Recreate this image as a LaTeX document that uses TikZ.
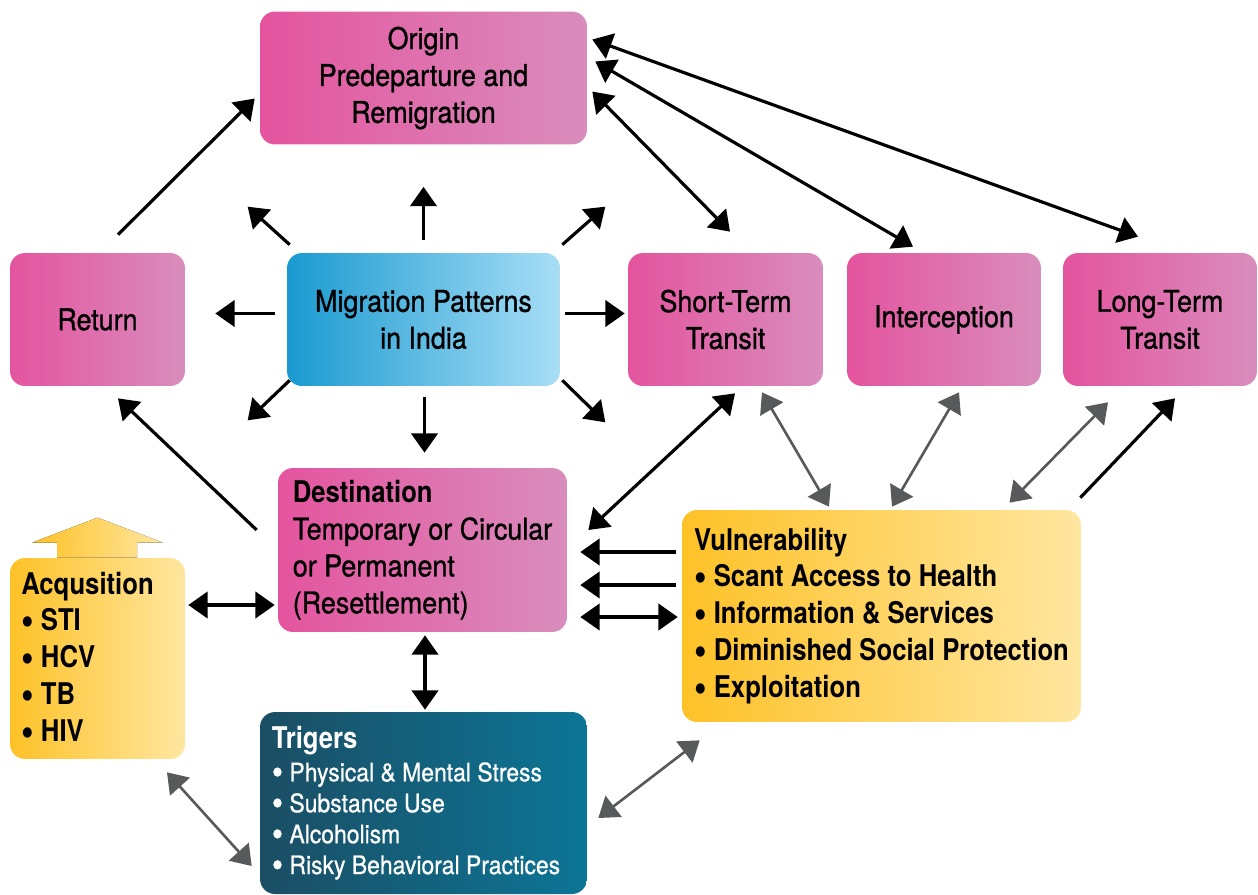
\documentclass[tikz,border=0pt]{standalone}
\usepackage{graphicx}
\usepackage{fontspec}
\setmainfont{TeX Gyre Heros}[FakeStretch=0.9,BoldFeatures={FakeStretch=0.86}]
\newfontfamily\medfont{TeX Gyre Heros}[FakeStretch=0.9,FakeBold=1]
\newfontfamily\trigfont{TeX Gyre Heros}[FakeStretch=0.9,FakeBold=0.8]
\usetikzlibrary{calc,arrows.meta}
\definecolor{pinkL}{RGB}{228,84,158}
\definecolor{pinkR}{RGB}{217,141,189}
\definecolor{blueL}{RGB}{26,154,208}
\definecolor{blueR}{RGB}{168,222,246}
\definecolor{yellowL}{RGB}{254,194,40}
\definecolor{yellowR}{RGB}{255,230,160}
\definecolor{tealL}{RGB}{27,78,100}
\definecolor{tealR}{RGB}{12,117,150}
\definecolor{arrowgrey}{RGB}{88,89,91}
\newcommand{\listdot}{\raisebox{-0.12em}{\scalebox{1.4}{\textbullet}}}

\begin{document}
\begin{tikzpicture}[x=0.02cm,y=-0.02cm,font=\fontsize{17}{21}\selectfont]

\tikzset{pinknode/.style={left color=pinkL,right color=pinkR,rounded corners=0.3cm,inner sep=0pt,align=center,minimum height=2.66cm,font=\medfont\fontsize{17}{21}\selectfont},
bluenode/.style={left color=blueL,right color=blueR,rounded corners=0.3cm,inner sep=0pt,align=center,minimum height=2.66cm,font=\medfont\fontsize{17}{21}\selectfont},
yellownode/.style={left color=yellowL,right color=yellowR,rounded corners=0.3cm,inner sep=0pt,align=left,font=\fontsize{17}{21}\selectfont\bfseries},
tealnode/.style={left color=tealL,right color=tealR,rounded corners=0.3cm,inner sep=0pt,align=left,text=white,font=\trigfont\fontsize{14.5}{17.6}\selectfont},
blackarrow/.style={line width=1.8pt,-{Triangle[length=11pt,width=15pt]}},
blackboth/.style={line width=1.8pt,{Triangle[length=11pt,width=15pt]}-{Triangle[length=11pt,width=15pt]}},
greyboth/.style={draw=arrowgrey,line width=1.5pt,{Triangle[length=11pt,width=15pt]}-{Triangle[length=11pt,width=15pt]}}}

\useasboundingbox (0,0) rectangle (1258,894);

% Top and middle row
\node[pinknode,minimum width=6.54cm] (orig) at (423.5,78) {Origin\\Predeparture and\\Remigration};
\node[pinknode,minimum width=3.5cm] (ret) at (97.5,319.5) {Return};
\node[bluenode,minimum width=5.46cm] (mig) at (423.5,319.5) {Migration Patterns\\in India};
\node[pinknode,minimum width=3.9cm] (short) at (725.5,319.5) {Short-Term\\Transit};
\node[pinknode,minimum width=3.88cm] (inter) at (944,319.5) {Interception};
\node[pinknode,minimum width=3.88cm] (long) at (1160,319.5) {Long-Term\\Transit};

% Lower boxes
\node[pinknode,align=left,minimum width=5.78cm,minimum height=3.28cm] (dest) at (422.5,550) {{\normalfont\bfseries Destination}\\Temporary or Circular\hspace*{0.18cm}\\or Permanent\\(Resettlement)};
\node[yellownode,minimum width=7.98cm,minimum height=4.24cm] (vuln) at (881.5,616) {Vulnerability\\\listdot\ Scant Access to Health\\\listdot\ Information \& Services\\\listdot\ Diminished Social Protection\\\listdot\ Exploitation};
\node[yellownode,minimum width=3.5cm,minimum height=4.02cm] (acq) at (97.5,658.5) {Acqusition\hspace*{0.4cm}\\\listdot\ STI\\\listdot\ HCV\\\listdot\ TB\\\listdot\ HIV};
\node[tealnode,minimum width=6.54cm,minimum height=3.64cm] (trig) at (423.5,803) {{\normalfont\bfseries\fontsize{17}{17.6}\selectfont Trigers}\\[1pt]
\listdot\ Physical \& Mental Stress\\
\listdot\ Substance Use\\
\listdot\ Alcoholism\\
\listdot\ Risky Behavioral Practices\hspace*{0.3cm}};

% Arrow on top of acquisition
\fill[left color=yellowL,right color=yellowR] ($(acq.north)+(-40.5,0)$) -- ++(0,-15) -- ++(-25,0) -- ($(acq.north)+(0,-40)$) -- ($(acq.north)+(65.5,-15)$) -- ++(-26,0) -- ++(0,15) -- cycle;

% Arrows out of migration patterns
\draw[blackarrow] ($(mig.north)+(0,-13)$) -- ($(orig.south)+(0,42)$);
\draw[blackarrow] ($(mig.north west)+(3,-8)$) -- ($(mig.north west)+(-39,-46)$);
\draw[blackarrow] ($(mig.north east)+(2,-8)$) -- ($(mig.north east)+(45,-46)$);
\draw[blackarrow] ($(mig.west)+(-12,-6)$) -- ($(ret.east)+(30,-6)$);
\draw[blackarrow] ($(mig.east)+(5,-6)$) -- ($(short.west)+(-3,-6)$);
\draw[blackarrow] ($(mig.south west)+(3,-6)$) -- ($(mig.south west)+(-39,34)$);
\draw[blackarrow] ($(mig.south)+(1,11)$) -- ($(dest.north)+(2,-15)$);
\draw[blackarrow] ($(mig.south east)+(2,-6)$) -- ($(mig.south east)+(45,36)$);

% Return loop
\draw[blackarrow] ($(ret.north)+(20.5,-18)$) -- ($(orig.west)+(-5,20.5)$);
\draw[blackarrow] ($(dest.west)+(-21,-20)$) -- ($(ret.south)+(20.5,12)$);

% Origin to transit boxes
\draw[blackboth] ($(orig.east)+(5,13.5)$) -- ($(short.north)+(4.5,-21)$);
\draw[blackboth] ($(orig.east)+(8,-16.5)$) -- ($(inter.north)+(-31,-6)$);
\draw[blackboth] ($(orig.east)+(5,-38.5)$) -- ($(long.north)+(-22,-16)$);

% Destination links
\draw[blackboth] ($(short.south)+(9.5,7)$) -- ($(dest.east)+(21,-20)$);
\draw[blackarrow] ($(vuln.west)+(-6,-64)$) -- ($(dest.east)+(13,2)$);
\draw[blackarrow] ($(vuln.west)+(-6,-31)$) -- ($(dest.east)+(13,35)$);
\draw[blackboth] ($(dest.east)+(13,67)$) -- ($(vuln.west)+(-4,1)$);
\draw[blackboth] ($(acq.east)+(3,-53.5)$) -- ($(dest.west)+(-3,55)$);
\draw[blackboth] ($(dest.south)+(2.5,3)$) -- ($(trig.north)+(1.5,-2)$);

% Vulnerability links
\draw[greyboth] ($(short.south)+(36.5,6)$) -- ($(vuln.north)+(-52.5,-3)$);
\draw[greyboth] ($(inter.south)+(15,6)$) -- ($(vuln.north)+(10.5,-3)$);
\draw[greyboth] ($(long.south)+(-52,16)$) -- ($(vuln.north)+(128,-7)$);
\draw[blackarrow] ($(vuln.north east)+(-1,-12)$) -- ($(long.south)+(15,12)$);
\draw[greyboth] ($(trig.east)+(11,15)$) -- ($(vuln.south west)+(18,18)$);
\draw[greyboth] ($(acq.south)+(69.5,13)$) -- ($(trig.west)+(-8,63)$);

\end{tikzpicture}
\end{document}
